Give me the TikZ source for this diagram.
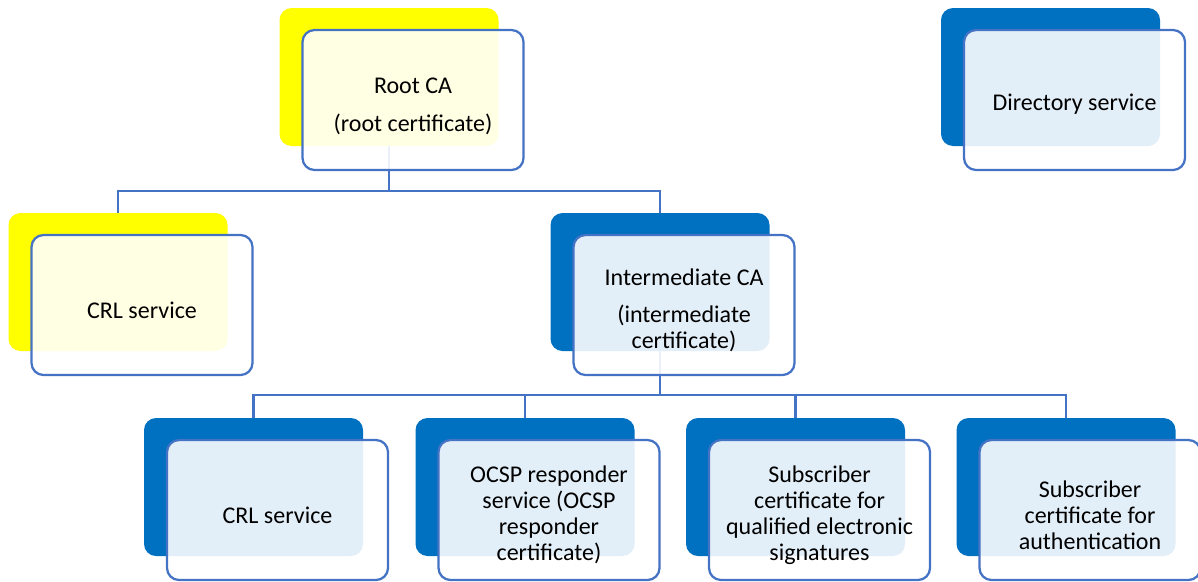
\documentclass[tikz,border=0pt]{standalone}
\usepackage{fontspec}
\setmainfont{Carlito}
\usetikzlibrary{backgrounds}
\definecolor{ylw}{HTML}{FFFF00}
\definecolor{dblue}{HTML}{0070C0}
\definecolor{lineblue}{HTML}{4472C4}
\tikzset{
  backbox/.style={rounded corners=12pt, minimum width=219pt, minimum height=138pt, inner sep=0pt, draw=none, fill=#1},
  frontbox/.style={rounded corners=12pt, minimum width=221pt, minimum height=140pt, inner sep=0pt, draw=lineblue, line width=2.25pt, fill=white, fill opacity=0.89},
  conn/.style={draw=lineblue, line width=2.75pt},
  lbl/.style={font=\fontsize{24}{26}\selectfont, align=center, text=black, inner sep=0pt},
}
\begin{document}
\begin{tikzpicture}[x=1pt,y=-1pt]
\useasboundingbox (0,0) rectangle (1198,581);
\coordinate (j1) at (389,191);
\coordinate (j2) at (660,395);
% back boxes
\path
  node[backbox=ylw]   (rootb) at (389,77)    {}
  node[backbox=dblue] (dirb)  at (1050.5,77) {}
  node[backbox=ylw]   (crlAb) at (118,282)   {}
  node[backbox=dblue] (intb)  at (660,282)   {}
  node[backbox=dblue] (b1b)   at (253.5,487) {}
  node[backbox=dblue] (b2b)   at (525,487)   {}
  node[backbox=dblue] (b3b)   at (795.5,487) {}
  node[backbox=dblue] (b4b)   at (1066,487)  {};
% front boxes
\path
  node[frontbox] (rootf) at (413,100)    {}
  node[frontbox] (dirf)  at (1074.5,100) {}
  node[frontbox] (crlAf) at (142,305)    {}
  node[frontbox] (intf)  at (684,305)    {}
  node[frontbox] (b1f)   at (277.5,510)  {}
  node[frontbox] (b2f)   at (549,510)    {}
  node[frontbox] (b3f)   at (819.5,510)  {}
  node[frontbox] (b4f)   at (1090,510)   {};
% connectors behind everything
\begin{scope}[on background layer]
  \draw[conn] (rootb.south) -- (rootb.south |- j1) -| (crlAb.north);
  \draw[conn] (rootb.south |- j1) -| (intb.north);
  \draw[conn] (intb.south) -- (intb.south |- j2) -| (b1b.north);
  \draw[conn] (intb.south |- j2) -| (b2b.north);
  \draw[conn] (intb.south |- j2) -| (b3b.north);
  \draw[conn] (intb.south |- j2) -| (b4b.north);
\end{scope}
% labels
\node[lbl] (roott) at ([yshift=-6pt]rootf.center) {Root CA\\[12pt](root certificate)};
\node[lbl] (dirt)  at ([yshift=-4pt]dirf.center) {Directory service};
\node[lbl] (crlAt) at ([yshift=-5pt]crlAf.center) {CRL service};
\node[lbl] (intt)  at ([yshift=-5pt]intf.center) {Intermediate CA\\[11pt](intermediate\\certificate)};
\node[lbl] (b1t)   at ([yshift=-5pt]b1f.center) {CRL service};
\node[lbl] (b2t)   at ([yshift=-5pt]b2f.center) {OCSP responder\\service (OCSP\\responder\\certificate)};
\node[lbl] (b3t)   at ([yshift=-5pt]b3f.center) {Subscriber\\certificate for\\qualified electronic\\signatures};
\node[lbl] (b4t)   at ([yshift=-5pt]b4f.center) {Subscriber\\certificate for\\authentication};
\end{tikzpicture}
\end{document}
